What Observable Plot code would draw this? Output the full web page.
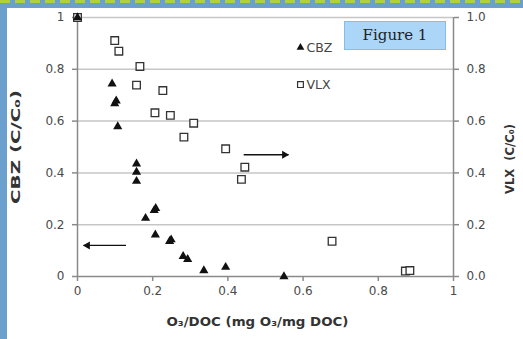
<!DOCTYPE html>
<html><head><meta charset="utf-8">
<script src="https://cdn.jsdelivr.net/npm/d3@7"></script>
<script src="https://cdn.jsdelivr.net/npm/@observablehq/plot@0.6"></script>
<style>
html,body{margin:0;padding:0;background:#6a9fce;}
#frame{position:relative;width:523px;height:339px;background:#6a9fce;overflow:hidden;}
#strip{position:absolute;left:0;top:0;width:523px;height:3px;background:repeating-linear-gradient(90deg,#b3cf3c 0 10px,transparent 10px 15px);}
#panel{position:absolute;left:7px;top:8px;right:0;bottom:0;background:#fff;}
#chart{position:absolute;left:0;top:0;}
#fig{position:absolute;left:344px;top:21px;width:100px;height:27px;background:#abd6f8;border:1px solid #86bce8;font:15px "DejaVu Serif";color:#222;text-align:center;line-height:27px;}
</style></head>
<body><div id="frame"><div id="strip"></div><div id="panel"></div><div id="chart"></div><div id="fig">Figure 1</div></div>
<script>
// CBZ (triangles, left axis)
const cbzX = [0, 0.092, 0.099, 0.103, 0.107, 0.157, 0.157, 0.157, 0.181, 0.204, 0.208, 0.207, 0.245, 0.249, 0.281, 0.293, 0.336, 0.394, 0.549];
const cbzY = [1.0, 0.744, 0.668, 0.678, 0.579, 0.435, 0.403, 0.368, 0.225, 0.255, 0.263, 0.161, 0.136, 0.142, 0.078, 0.066, 0.023, 0.036, 0.0];
// VLX (open squares, right axis)
const vlxX = [0, 0.099, 0.110, 0.166, 0.157, 0.227, 0.206, 0.247, 0.309, 0.283, 0.394, 0.445, 0.436, 0.677, 0.872, 0.884];
const vlxY = [1.0, 0.911, 0.870, 0.811, 0.739, 0.718, 0.632, 0.622, 0.592, 0.538, 0.493, 0.422, 0.375, 0.136, 0.021, 0.023];
// ticks
const xTicks = [0, 0.2, 0.4, 0.6, 0.8, 1];
const yTicks = [0, 0.2, 0.4, 0.6, 0.8, 1];
const gridY = [0.2, 0.4, 0.6, 0.8, 1];
// legend
const legendLabels = ["CBZ", "VLX"];
const legendSymbols = ["triangle", "square"];
const legendX = 0.593;
const legendY = [0.884, 0.741];
// direction arrows (data space)
const arrowX1 = [0.129, 0.442];
const arrowX2 = [0.016, 0.561];
const arrowY = [0.12, 0.47];
const arrowDir = [-1, 1];
// titles
const xTitle = "O₃/DOC (mg O₃/mg DOC)";
const yTitleLeft = "CBZ (C/C₀)";
const yTitleRight = "VLX  (C/C₀)";

const cbz = cbzX.map((x, i) => ({x, y: cbzY[i]}));
const vlx = vlxX.map((x, i) => ({x, y: vlxY[i]}));
const legend = legendLabels.map((t, i) => ({t, s: legendSymbols[i], y: legendY[i]}));
const arrows = arrowX1.map((x1, i) => ({x1, x2: arrowX2[i], y: arrowY[i], d: arrowDir[i]}));

const plot = Plot.plot({
  width: 523, height: 339,
  marginLeft: 77, marginRight: 70, marginTop: 17, marginBottom: 63,
  x: {domain: [0, 1]}, y: {domain: [0, 1]},
  style: {background: "transparent", fontFamily: "DejaVu Sans", fontSize: "12px", color: "#555", overflow: "visible"},
  marks: [
    Plot.ruleY(gridY, {stroke: "#c6c6c6", strokeWidth: 1.5}),
    Plot.ruleX([0, 1], {stroke: "#8a8a8a", strokeWidth: 1.5}),
    Plot.ruleY([0], {stroke: "#8a8a8a", strokeWidth: 1.5}),
    Plot.axisX({ticks: xTicks, tickFormat: d3.format("~g"), tickSize: 5, tickPadding: 5, label: null, stroke: "#8a8a8a", strokeWidth: 1.5, fill: "#4a4a4a"}),
    Plot.axisY({anchor: "left", ticks: yTicks, tickFormat: d3.format("~g"), tickSize: 5, tickPadding: 8, label: null, stroke: "#8a8a8a", strokeWidth: 1.5, fill: "#4a4a4a"}),
    Plot.axisY({anchor: "right", ticks: yTicks, tickFormat: d3.format(".1f"), tickSize: 5, tickPadding: 8, label: null, stroke: "#8a8a8a", strokeWidth: 1.5, fill: "#4a4a4a"}),
    Plot.dot(vlx, {x: "x", y: "y", symbol: "square", r: 4.3, fill: "white", stroke: "#333", strokeWidth: 1.3}),
    Plot.dot(cbz, {x: "x", y: "y", symbol: "triangle", r: 3.4, fill: "#111", stroke: "none"}),
    Plot.link(arrows, {x1: "x1", x2: "x2", y1: "y", y2: "y", stroke: "#111", strokeWidth: 1.3}),
    Plot.dot(arrows, {filter: d => d.d > 0, x: "x2", y: "y", symbol: "triangle", r: 3, fill: "#111", stroke: "none", rotate: 90, dx: -4}),
    Plot.dot(arrows, {filter: d => d.d < 0, x: "x2", y: "y", symbol: "triangle", r: 3, fill: "#111", stroke: "none", rotate: -90, dx: 4}),
    Plot.dot(legend, {x: legendX, y: "y", symbol: "s", r: d => d.s === "square" ? 3.8 : 3, fill: d => d.s === "square" ? "white" : "#111", stroke: d => d.s === "square" ? "#333" : "none", strokeWidth: 1.2}),
    Plot.text(legend, {x: legendX, y: "y", text: "t", dx: 6, textAnchor: "start", fill: "#444", fontSize: 12.5}),
    Plot.text([xTitle], {text: d => d, frameAnchor: "bottom", dx: -8, dy: 49, fontWeight: "bold", fontSize: 12.5, fill: "#333"}),
    Plot.text([yTitleLeft], {text: d => d, frameAnchor: "left", dx: -61, dy: 0, rotate: -90, fontWeight: "bold", fontSize: 12, fill: "#333"}),
    Plot.text([yTitleRight], {text: d => d, frameAnchor: "right", dx: 57, dy: 12, rotate: -90, fontWeight: "bold", fontSize: 12, fill: "#333"})
  ]
});
const stretch = {[xTitle]: 182, [yTitleLeft]: 114, [yTitleRight]: 70};
d3.select(plot).selectAll("text").each(function () {
  const L = stretch[this.textContent];
  if (L) d3.select(this)
    .attr("text-anchor", "start")
    .attr("x", -L / 2)
    .attr("textLength", L)
    .attr("lengthAdjust", "spacingAndGlyphs");
});
document.getElementById("chart").appendChild(plot);
</script>
</body></html>
